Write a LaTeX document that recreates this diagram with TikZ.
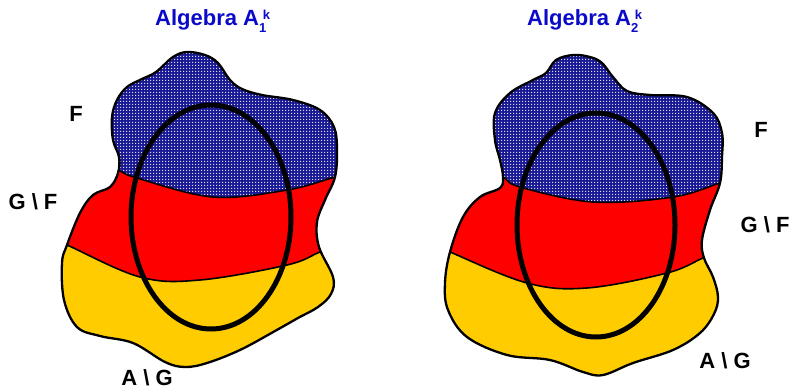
\documentclass[tikz,border=0pt]{standalone}
\usepackage{fontspec}
\setmainfont{Liberation Sans}
\usetikzlibrary{patterns}
\pgfdeclarepatternformonly{finedots}{\pgfqpoint{0pt}{0pt}}{\pgfqpoint{3pt}{3pt}}{\pgfqpoint{3pt}{3pt}}{%
  \pgfpathrectangle{\pgfqpoint{0.2pt}{0.2pt}}{\pgfqpoint{1.3pt}{1.3pt}}\pgfusepath{fill}}
\definecolor{setblue}{RGB}{25,25,150}
\definecolor{setred}{RGB}{255,0,0}
\definecolor{setyellow}{RGB}{255,204,0}
\definecolor{titleblue}{RGB}{10,10,200}
\newcommand\LeftBlob{plot[smooth cycle, tension=0.6] coordinates {(187,52) (205,55) (218,63) (230,80) (242,89) (262,95) (293,100) (320,110) (334,127) (337,150) (335,177) (325,200) (317,222) (319,247) (333,277) (331,294) (318,307) (298,318) (275,331) (240,350) (207,363) (185,367) (165,362) (133,343) (100,336) (77,327) (64,300) (62,263) (67,245) (80,213) (93,195) (110,187) (118,173) (119,157) (113,140) (112,117) (117,100) (127,87) (142,79) (156,72) (173,57)}}
\newcommand\RightBlob{plot[smooth cycle, tension=0.6] coordinates {(573,55) (590,57) (602,63) (613,77) (627,91) (650,95) (687,97) (713,113) (722,133) (722,157) (720,183) (710,210) (702,240) (704,258) (713,277) (718,297) (714,314) (700,333) (673,350) (633,363) (603,375) (583,372) (550,360) (507,355) (467,337) (448,310) (445,283) (450,252) (463,217) (480,197) (500,188) (503,177) (500,160) (495,140) (495,113) (510,93) (533,80) (546,73) (556,60)}}
\newcommand\LeftFG{plot[smooth, tension=0.6] coordinates {(100,165) (118,170) (137,178) (213,197) (287,190) (335,177) (360,170)}}
\newcommand\LeftGA{plot[smooth, tension=0.6] coordinates {(45,236) (67,245) (140,277) (200,280) (287,265) (320,252) (345,243)}}
\newcommand\RightFG{plot[smooth, tension=0.6] coordinates {(485,172) (503,177) (520,187) (593,202) (673,197) (720,183) (740,177)}}
\newcommand\RightGA{plot[smooth, tension=0.6] coordinates {(430,243) (450,252) (527,283) (587,288) (667,273) (703,258) (725,249)}}
\begin{document}
\begin{tikzpicture}[x=1pt,y=-1pt,
  lbl/.style={font=\fontsize{22}{22}\selectfont\bfseries, inner sep=0pt, anchor=base},
  ttl/.style={font=\fontsize{22}{22}\selectfont\bfseries, text=titleblue, inner sep=0pt, anchor=base west},
  outline/.style={draw=black, line width=2.3pt},
  border/.style={draw=black, line width=1.6pt},
  ring/.style={draw=black, line width=5pt}]
\useasboundingbox (0,0) rectangle (792,390);
% ---------- left
\begin{scope}
  \clip \LeftBlob;
  \fill[setyellow] (0,0) rectangle (396,390);
  \fill[setred] \LeftGA -- (345,0) -- (45,0) -- cycle;
  \fill[setblue] \LeftFG -- (360,0) -- (100,0) -- cycle;
  \fill[pattern=finedots, pattern color=white!85!setblue] \LeftFG -- (360,0) -- (100,0) -- cycle;
  \draw[border] \LeftFG;
  \draw[border] \LeftGA;
\end{scope}
\draw[outline] \LeftBlob;
\draw[ring] (211,217) ellipse [x radius=80, y radius=112];
% ---------- right
\begin{scope}
  \clip \RightBlob;
  \fill[setyellow] (396,0) rectangle (792,390);
  \fill[setred] \RightGA -- (725,0) -- (430,0) -- cycle;
  \fill[setblue] \RightFG -- (740,0) -- (485,0) -- cycle;
  \fill[pattern=finedots, pattern color=white!85!setblue] \RightFG -- (740,0) -- (485,0) -- cycle;
  \draw[border] \RightFG;
  \draw[border] \RightGA;
\end{scope}
\draw[outline] \RightBlob;
\draw[ring] (596,225) ellipse [x radius=79, y radius=112];
% ---------- titles
\node[ttl] (t1) at (155,26) {Algebra A{\fontsize{13}{13}\selectfont\raisebox{-7pt}{1}\kern-3.5pt\raisebox{6pt}{k}}};
\node[ttl] (t2) at (527,26) {Algebra A{\fontsize{13}{13}\selectfont\raisebox{-7pt}{2}\kern-3.5pt\raisebox{6pt}{k}}};
% ---------- labels
\node[lbl] (lf) at (76,122) {F};
\node[lbl] (lgf) at (33,210) {G \textbackslash{} F};
\node[lbl] (lag) at (147,385) {A \textbackslash{} G};
\node[lbl] (rf) at (761,138) {F};
\node[lbl] (rgf) at (765,232) {G \textbackslash{} F};
\node[lbl] (rag) at (725,368) {A \textbackslash{} G};
\end{tikzpicture}
\end{document}
